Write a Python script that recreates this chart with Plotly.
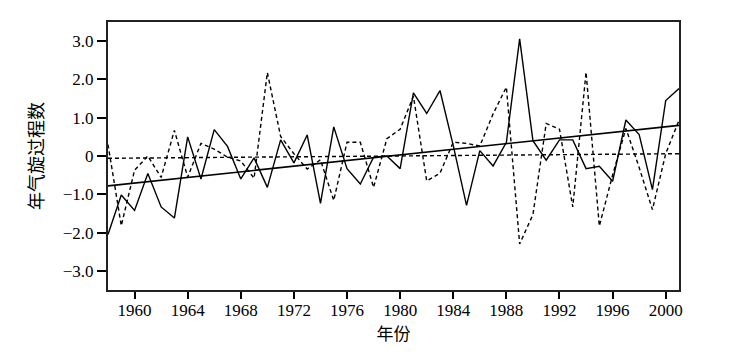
import plotly.graph_objects as go

years = list(range(1958, 2002))

series_solid = [-2.05, -1.02, -1.42, -0.46, -1.33, -1.62, 0.50, -0.60, 0.69, 0.25,
                -0.60, -0.05, -0.82, 0.42, -0.18, 0.55, -1.24, 0.76, -0.33, -0.73,
                -0.03, 0.00, -0.33, 1.65, 1.11, 1.71, 0.27, -1.29, 0.14, -0.26,
                0.36, 3.06, 0.40, -0.11, 0.42, 0.42, -0.33, -0.27, -0.66, 0.94,
                0.56, -0.88, 1.45, 1.76]

series_dashed = [0.30, -1.82, -0.37, 0.00, -0.56, 0.67, -0.55, 0.33, 0.18, -0.03,
                 -0.13, -0.58, 2.18, 0.51, 0.06, -0.34, -0.10, -1.16, 0.36, 0.36,
                 -0.82, 0.45, 0.70, 1.56, -0.65, -0.45, 0.36, 0.33, 0.26, 1.10,
                 1.80, -2.30, -1.53, 0.85, 0.70, -1.33, 2.19, -1.83, -0.50, 0.72,
                 -0.30, -1.40, 0.06, 0.93]

trend_years = [1958, 2001]
trend_solid = [-0.78, 0.80]
trend_dashed = [-0.06, 0.06]

ytick_vals = [-3, -2, -1, 0, 1, 2, 3]
ytick_text = ["\u22123.0", "\u22122.0", "\u22121.0", "0", "1.0", "2.0", "3.0"]
xtick_vals = list(range(1960, 2001, 4))

SERIF = "Liberation Serif, Times New Roman, DejaVu Serif, serif"
CJK = "Noto Sans CJK SC, Noto Sans CJK JP, sans-serif"

fig = go.Figure()
fig.add_trace(go.Scatter(x=years, y=series_dashed, mode="lines",
                         line=dict(color="black", width=1.4, dash="4px,3px")))
fig.add_trace(go.Scatter(x=years, y=series_solid, mode="lines",
                         line=dict(color="black", width=1.4)))
fig.add_trace(go.Scatter(x=trend_years, y=trend_dashed, mode="lines",
                         line=dict(color="black", width=1.4, dash="4px,3px")))
fig.add_trace(go.Scatter(x=trend_years, y=trend_solid, mode="lines",
                         line=dict(color="black", width=1.6)))

fig.update_layout(
    width=740, height=348,
    margin=dict(l=100, r=69, t=12, b=66),
    paper_bgcolor="white", plot_bgcolor="white",
    showlegend=False,
    font=dict(family=SERIF, size=17, color="black"),
)
fig.update_xaxes(
    range=[1958, 2001], tickvals=xtick_vals,
    ticks="outside", ticklen=7, tickwidth=1.5, tickcolor="black",
    ticklabelstandoff=-3,
    showline=True, linecolor="#222", linewidth=2, mirror=True,
    showgrid=False, zeroline=False,
    tickfont=dict(family=SERIF, size=17),
    title=dict(text="年份", font=dict(family=CJK, size=17), standoff=6),
)
fig.update_yaxes(
    range=[-3.5, 3.5], tickvals=ytick_vals, ticktext=ytick_text,
    ticks="outside", ticklen=9, tickwidth=1.5, tickcolor="black",
    showline=True, linecolor="#222", linewidth=2, mirror=True,
    showgrid=False, zeroline=False,
    tickfont=dict(family=SERIF, size=17),
    title=dict(text="年气旋过程数", font=dict(family=CJK, size=18), standoff=14),
)

fig.write_html("out.html")
